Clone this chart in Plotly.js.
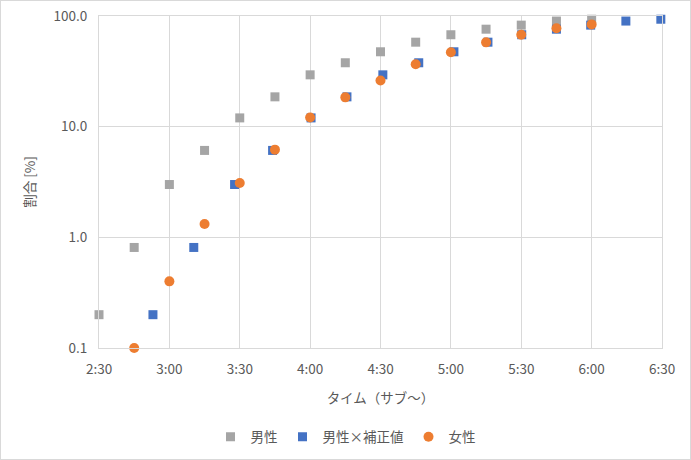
<!DOCTYPE html>
<html>
<head>
<meta charset="utf-8">
<script src="https://cdn.plot.ly/plotly-3.0.1.min.js"></script>
<style>
  body { margin: 0; background: #fff; }
  #frame { width: 689px; height: 458px; border: 1px solid #d9d9d9; }
  #chart { width: 689px; height: 458px; }
</style>
</head>
<body>
<div id="frame"><div id="chart"></div></div>
<script>
// times as h:mm, values in %
const maleTimes = ['2:30', '2:45', '3:00', '3:15', '3:30', '3:45', '4:00', '4:15',
                   '4:30', '4:45', '5:00', '5:15', '5:30', '5:45', '6:00'];
const maleValues = [0.2, 0.81, 3.0, 6.1, 12.0, 18.6, 29.4, 37.8, 47.5, 58, 67.7, 76, 82.7, 90, 93.5];

const correctedTimes = ['2:53', '3:10.4', '3:27.8', '3:44', '4:00.4', '4:15.7', '4:31', '4:46.3',
                        '5:01.3', '5:15.8', '5:30.2', '5:45', '5:59.6', '6:14.6', '6:29.5'];
const correctedValues = [0.2, 0.81, 3.0, 6.1, 12.0, 18.6, 29.4, 37.8, 47.5, 58, 67.7, 76, 82.7, 90, 93.5];

const femaleTimes = ['2:45', '3:00', '3:15', '3:30', '3:45', '4:00', '4:15', '4:30',
                     '4:45', '5:00', '5:15', '5:30', '5:45', '6:00'];
const femaleValues = [0.1, 0.4, 1.32, 3.1, 6.2, 12.1, 18.4, 26.1, 36.6, 47, 57.8, 67.7, 77.4, 84];

const xTickLabels = ['2:30', '3:00', '3:30', '4:00', '4:30', '5:00', '5:30', '6:00', '6:30'];
const yTickValues = [0.1, 1, 10, 100];

const textColor = '#595959';
const gridColor = '#d9d9d9';
const font = 'Noto Sans CJK JP, Noto Sans, sans-serif';

function toMinutes(t) {
    let parts = t.split(':');
    return Number(parts[0]) * 60 + Number(parts[1]);
}

var trace1 = {
    x: maleTimes.map(toMinutes),
    y: maleValues,
    mode: 'markers',
    type: 'scatter',
    name: '男性',
    cliponaxis: false,
    marker: { symbol: 'square', size: 9, color: '#a5a5a5' }
};

var trace2 = {
    x: correctedTimes.map(toMinutes),
    y: correctedValues,
    mode: 'markers',
    type: 'scatter',
    name: '男性×補正値',
    cliponaxis: false,
    marker: { symbol: 'square', size: 9, color: '#4472c4' }
};

var trace3 = {
    x: femaleTimes.map(toMinutes),
    y: femaleValues,
    mode: 'markers',
    type: 'scatter',
    name: '女性',
    cliponaxis: false,
    marker: { symbol: 'circle', size: 10, color: '#ed7d31' }
};

var layout = {
    width: 689,
    height: 458,
    margin: { l: 98, r: 28, t: 15, b: 111 },
    paper_bgcolor: '#ffffff',
    plot_bgcolor: '#ffffff',
    font: { family: font, size: 13, color: textColor },
    xaxis: {
        range: [150, 390],
        tickvals: xTickLabels.map(toMinutes),
        ticktext: xTickLabels,
        showgrid: true,
        gridcolor: gridColor,
        showline: true,
        linecolor: gridColor,
        mirror: true,
        zeroline: false,
        ticks: 'outside',
        ticklen: 9,
        tickcolor: 'rgba(0,0,0,0)',
        tickfont: { size: 13.5, color: textColor },
        title: { text: 'タイム（サブ〜）', font: { size: 13.5, color: textColor }, standoff: 16 }
    },
    yaxis: {
        type: 'log',
        range: [-1, 2],
        tickvals: yTickValues,
        tickformat: '.1f',
        showgrid: true,
        gridcolor: gridColor,
        showline: true,
        linecolor: gridColor,
        mirror: true,
        zeroline: false,
        ticks: 'outside',
        ticklen: 8,
        tickcolor: 'rgba(0,0,0,0)',
        tickfont: { size: 13.5, color: textColor },
        title: { text: '割合 [%]', font: { size: 13.5, color: textColor }, standoff: 14 }
    },
    showlegend: true,
    legend: {
        orientation: 'h',
        x: 0.5,
        xanchor: 'center',
        xref: 'container',
        y: 0.048,
        yanchor: 'middle',
        yref: 'container',
        font: { size: 13.5, color: textColor },
        itemwidth: 30,
        traceorder: 'normal'
    }
};

Plotly.newPlot('chart', [trace1, trace2, trace3], layout, { displayModeBar: false, staticPlot: true });
</script>
</body>
</html>
